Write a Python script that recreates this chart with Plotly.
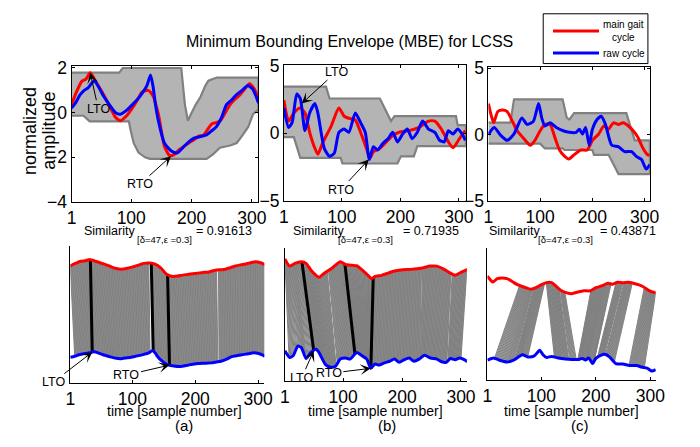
import numpy as np
import plotly.graph_objects as go

W, H = 700, 447
FONT = "Liberation Sans, Arial, sans-serif"

# ---------------- panel (a) ----------------
a_red_x = [1, 8, 18, 25, 32, 42, 53, 64, 74, 82, 92, 102, 112, 118, 128, 136, 145, 155, 164, 172,
           180, 188, 196, 204, 212, 220, 228, 234, 241, 248, 256, 264, 272, 280, 288, 296, 304, 311]
a_red_y = [0.36, 0.85, 1.4, 1.5, 1.79, 1.35, 0.86, 0.3, -0.21, -0.36, -0.15, 0.21, 0.65, 0.93, 1.0, 0.75,
           -0.07, -1.5, -1.93, -1.86, -1.65, -1.5, -1.35, -1.21, -1.05, -1.0, -0.7, -0.5, -0.45, -0.36,
           0.0, 0.36, 0.6, 0.79, 1.05, 1.29, 1.07, 0.64]
a_blue_x = [1, 8, 15, 22, 28, 34, 39, 46, 53, 64, 74, 82, 92, 102, 112, 118, 126, 132, 136, 140, 145,
            155, 166, 176, 188, 196, 204, 215, 225, 234, 241, 250, 258, 266, 274, 284, 293, 301, 306, 311]
a_blue_y = [0.21, 0.45, 0.79, 1.0, 1.1, 1.3, 1.43, 1.15, 0.79, 0.35, 0.0, -0.07, 0.1, 0.36, 0.65, 0.86,
            1.21, 1.69, 1.2, 0.4, -0.36, -1.36, -1.71, -1.81, -1.5, -1.3, -1.14, -1.07, -1.0, -0.8,
            -0.64, -0.2, 0.36, 0.55, 0.79, 1.0, 1.21, 1.07, 0.8, 0.43]
a_env_up_x = [1, 80, 86, 183, 189, 194, 199, 207, 215, 223, 228, 242, 311]
a_env_up_y = [1.79, 1.79, 2.0, 2.0, 0.36, -0.36, -0.07, 0.36, 0.71, 1.21, 1.43, 1.57, 1.57]
a_env_lo_x = [1, 21, 31, 96, 99, 104, 112, 123, 131, 225, 236, 247, 264, 275, 285, 294, 302, 311]
a_env_lo_y = [-0.14, -0.14, -0.39, -0.39, -0.79, -1.36, -1.79, -2.0, -2.07, -2.07, -1.86, -1.57,
              -1.47, -1.36, -1.0, -0.64, -0.07, 0.14]
a_similarity = "0.91613"
# matched sample bands (main cycle index range -> raw cycle index range)
a_match_red_start = [1, 130, 237]
a_match_red_end = [126, 234, 310]
a_match_blue_start = [8, 133, 238]
a_match_blue_end = [128, 236, 310]
a_key_red = [33, 130, 156]
a_key_blue = [36, 133, 159]

# ---------------- panel (b) ----------------
b_red_x = [1, 9, 18, 29, 37, 45, 54, 59, 68, 82, 95, 104, 115, 123, 132, 143, 148, 154, 165, 176, 187,
           198, 215, 232, 248, 259, 270, 282, 290, 301, 311]
b_red_y = [2.45, 0.9, 1.5, 1.86, 1.5, 0.07, -1.12, -1.55, -0.64, 0.55, 1.86, 1.26, 1.07, 0.98, 0.07,
           -1.24, -1.83, -1.36, -1.12, -0.64, -0.17, 0.07, 0.19, 0.43, 0.9, 0.9, 0.31, -0.64, -1.07,
           -0.4, 0.19]
b_blue_x = [1, 9, 15, 23, 29, 37, 45, 54, 59, 70, 79, 87, 95, 104, 112, 123, 132, 140, 147, 154, 161,
            170, 179, 187, 195, 204, 212, 220, 229, 238, 248, 259, 267, 275, 282, 290, 298, 307, 311]
b_blue_y = [1.86, 0.43, 0.79, 2.9, 2.57, 0.19, 1.5, 2.2, 1.5, -1.12, -1.71, -1.48, 0.07, 0.31, 0.07,
            1.5, 0.79, 0.07, -1.95, -1.0, -1.24, -0.76, -0.4, 0.07, -0.64, -0.05, 0.31, -0.4, 0.07,
            0.9, 0.31, 0.07, -0.52, -0.64, 0.19, -0.05, 0.31, -0.17, -0.52]
b_env_up_x = [1, 73, 79, 165, 173, 184, 190, 295, 298, 312]
b_env_up_y = [3.45, 3.45, 2.57, 2.57, 1.86, 0.9, 1.26, 1.26, 0.6, 0.6]
b_env_lo_x = [1, 18, 29, 98, 101, 195, 201, 223, 229, 312]
b_env_lo_y = [-0.29, -0.29, -1.83, -1.83, -2.24, -2.24, -1.71, -1.71, -0.95, -0.95]
b_similarity = "0.71935"
b_match_red_start = [1, 31, 75, 104, 151, 235, 285]
b_match_red_end = [29, 73, 102, 149, 233, 283, 310]
b_match_blue_start = [8, 51, 90, 121, 148, 231, 278]
b_match_blue_end = [49, 88, 119, 146, 230, 276, 300]
b_key_red = [30, 103, 151]
b_key_blue = [50, 120, 147]

# ---------------- panel (c) ----------------
c_red_x = [1, 6, 11, 19, 28, 37, 47, 56, 69, 81, 90, 100, 109, 119, 128, 137, 147, 155, 165, 178, 190,
           200, 212, 222, 231, 240, 250, 259, 269, 278, 287, 297, 306, 310]
c_red_y = [2.34, 1.5, 0.9, 1.74, 1.86, 1.74, 1.0, 0.29, -0.31, -0.8, -0.43, 0.29, 0.77, 0.77, -0.19,
           -1.16, -1.64, -1.84, -1.52, -1.16, -1.16, -0.43, 0.05, 0.65, 0.41, 0.89, 0.77, 0.89, 0.65,
           0.29, -0.19, -1.04, -1.52, -1.52]
c_blue_x = [1, 12, 25, 37, 50, 65, 75, 87, 97, 103, 109, 119, 131, 144, 156, 169, 175, 181, 187, 194,
            200, 209, 217, 225, 237, 250, 262, 275, 284, 294, 303, 310]
c_blue_y = [0.0, 0.53, -0.07, -0.43, 0.05, 1.26, 0.77, 1.0, 2.34, 1.26, 0.65, 0.89, 0.53, 0.29, 0.17,
            0.17, 0.41, 0.05, 0.53, -0.8, 0.41, 1.14, 1.38, 0.77, -0.8, -0.92, -1.28, -1.28, -1.64,
            -1.88, -2.6, -2.25]
c_env_up_x = [1, 43, 50, 143, 151, 156, 165, 265, 281, 310]
c_env_up_y = [0.9, 0.9, 2.66, 2.66, 1.26, 1.14, 1.62, 1.62, -0.43, -0.43]
c_env_lo_x = [1, 100, 109, 143, 147, 200, 203, 231, 250, 310]
c_env_lo_y = [-0.68, -0.68, -1.04, -1.04, -1.16, -1.16, -1.52, -1.52, -2.97, -2.97]
c_similarity = "0.43871"
c_match_red_start = [60, 86, 109, 135, 191, 237, 252, 289]
c_match_red_end = [84, 106, 133, 143, 228, 250, 267, 310]
c_match_blue_start = [14, 52, 124, 152, 167, 203, 218, 261]
c_match_blue_end = [50, 75, 150, 164, 197, 216, 234, 289]
c_key_red = []
c_key_blue = []

x_ticks = [1, 100, 200, 300]

RED = "rgb(255,0,0)"
BLUE = "rgb(0,0,255)"
ENV_FILL = "rgb(180,180,180)"
ENV_EDGE = "rgb(128,128,128)"
MATCH = "rgb(128,128,128)"


def fx(p):
    return p / W


def fy(p):
    return 1 - p / H


panels = [
    dict(rx=a_red_x, ry=a_red_y, bx=a_blue_x, by=a_blue_y,
         eux=a_env_up_x, euy=a_env_up_y, elx=a_env_lo_x, ely=a_env_lo_y, sim=a_similarity,
         mrs=a_match_red_start, mre=a_match_red_end, mbs=a_match_blue_start, mbe=a_match_blue_end,
         kr=a_key_red, kb=a_key_blue,
         top_x=(68, 259), top_y=(59.5, 201.5), top_xr=[1, 311], top_yr=[-4, 2.09], yt=[-4, -2, 0, 2],
         bot_x=(66.7, 265), bot_y=(247, 391), bot_yr=[0, 30.25], roff=25.4, boff=5.5,
         sim_x=(79, 133, 193), xlab_x=173, tag="(a)", tag_x=183),
    dict(rx=b_red_x, ry=b_red_y, bx=b_blue_x, by=b_blue_y,
         eux=b_env_up_x, euy=b_env_up_y, elx=b_env_lo_x, ely=b_env_lo_y, sim=b_similarity,
         mrs=b_match_red_start, mre=b_match_red_end, mbs=b_match_blue_start, mbe=b_match_blue_end,
         kr=b_key_red, kb=b_key_blue,
         top_x=(285, 471), top_y=(58.5, 201), top_xr=[1, 312], top_yr=[-5.05, 5.05], yt=[-5, 0, 5],
         bot_x=(286, 472), bot_y=(250, 389), bot_yr=[0, 28.96], roff=24.2, boff=4.8,
         sim_x=(292, 338, 405), xlab_x=379, tag="(b)", tag_x=390),
    dict(rx=c_red_x, ry=c_red_y, bx=c_blue_x, by=c_blue_y,
         eux=c_env_up_x, euy=c_env_up_y, elx=c_env_lo_x, ely=c_env_lo_y, sim=c_similarity,
         mrs=c_match_red_start, mre=c_match_red_end, mbs=c_match_blue_start, mbe=c_match_blue_end,
         kr=c_key_red, kb=c_key_blue,
         top_x=(494, 659), top_y=(60.5, 200.5), top_xr=[1, 310], top_yr=[-5, 5.1], yt=[-5, 0, 5],
         bot_x=(493, 665), bot_y=(250, 387), bot_yr=[0, 31.1], roff=22.2, boff=4.6,
         sim_x=(493, 543, 606), xlab_x=579, tag="(c)", tag_x=588),
]

fig = go.Figure()
layout = dict(
    width=W, height=H, margin=dict(l=0, r=0, t=0, b=0),
    paper_bgcolor="white", plot_bgcolor="white", showlegend=False,
    font=dict(family=FONT, color="black"),
)
annotations = []
shapes = []

for i, p in enumerate(panels):
    tn = i + 1          # top axis number
    bn = i + 4          # bottom axis number
    txa = "x" if tn == 1 else f"x{tn}"
    tya = "y" if tn == 1 else f"y{tn}"
    bxa, bya = f"x{bn}", f"y{bn}"

    # envelope
    ex = list(p["eux"]) + list(p["elx"])[::-1]
    ey = list(p["euy"]) + list(p["ely"])[::-1]
    fig.add_trace(go.Scatter(x=ex, y=ey, fill="toself", fillcolor=ENV_FILL, mode="lines",
                             line=dict(color=ENV_EDGE, width=2.2), xaxis=txa, yaxis=tya,
                             hoverinfo="skip"))
    fig.add_trace(go.Scatter(x=p["rx"], y=p["ry"], mode="lines",
                             line=dict(color=RED, width=3, shape="spline", smoothing=0.6),
                             xaxis=txa, yaxis=tya, name="main gait cycle"))
    fig.add_trace(go.Scatter(x=p["bx"], y=p["by"], mode="lines",
                             line=dict(color=BLUE, width=3, shape="spline", smoothing=0.6),
                             xaxis=txa, yaxis=tya, name="raw cycle"))

    # bottom: matched samples between the two cycles
    def red_at(t, p=p):
        return p["roff"] + float(np.interp(t, p["rx"], p["ry"]))

    def blue_at(t, p=p):
        return p["boff"] + float(np.interp(t, p["bx"], p["by"]))

    mx, my = [], []
    for rs, re_, bs, be in zip(p["mrs"], p["mre"], p["mbs"], p["mbe"]):
        for r in range(rs, re_ + 1):
            b = bs + (be - bs) * (r - rs) / max(re_ - rs, 1)
            mx += [r, b, None]
            my += [red_at(r), blue_at(b), None]
    fig.add_trace(go.Scatter(x=mx, y=my, mode="lines", line=dict(color=MATCH, width=1),
                             xaxis=bxa, yaxis=bya, hoverinfo="skip"))
    kx, ky = [], []
    for r, b in zip(p["kr"], p["kb"]):
        kx += [r, b, None]
        ky += [red_at(r), blue_at(b), None]
    if kx:
        fig.add_trace(go.Scatter(x=kx, y=ky, mode="lines", line=dict(color="black", width=3),
                                 xaxis=bxa, yaxis=bya, hoverinfo="skip"))
    fig.add_trace(go.Scatter(x=p["rx"], y=[p["roff"] + v for v in p["ry"]], mode="lines",
                             line=dict(color=RED, width=3, shape="spline", smoothing=0.6),
                             xaxis=bxa, yaxis=bya))
    fig.add_trace(go.Scatter(x=p["bx"], y=[p["boff"] + v for v in p["by"]], mode="lines",
                             line=dict(color=BLUE, width=3, shape="spline", smoothing=0.6),
                             xaxis=bxa, yaxis=bya))

    tick_common = dict(tickfont=dict(size=17.5, family=FONT, color="black"), showgrid=False,
                       zeroline=False, linecolor="black", linewidth=1, tickcolor="black",
                       ticks="inside", ticklen=3)
    layout[f"xaxis{'' if tn == 1 else tn}"] = dict(
        domain=[fx(p["top_x"][0]), fx(p["top_x"][1])], range=p["top_xr"], anchor=tya,
        tickvals=x_ticks, showline=True, mirror="ticks", **tick_common)
    layout[f"yaxis{'' if tn == 1 else tn}"] = dict(
        domain=[fy(p["top_y"][1]), fy(p["top_y"][0])], range=p["top_yr"], anchor=txa,
        tickvals=p["yt"], showline=True, mirror="ticks", **tick_common)
    layout[f"xaxis{bn}"] = dict(
        domain=[fx(p["bot_x"][0]), fx(p["bot_x"][1])], range=[1, 310], anchor=bya,
        tickvals=x_ticks, showline=True, mirror=False, **tick_common)
    layout[f"yaxis{bn}"] = dict(
        domain=[fy(p["bot_y"][1]), fy(p["bot_y"][0])], range=p["bot_yr"], anchor=bxa,
        showline=True, linecolor="black", linewidth=1, showticklabels=False, ticks="",
        showgrid=False, zeroline=False)

    # similarity caption
    s1, s2, s3 = p["sim_x"]
    annotations += [
        dict(text="Similarity", x=fx(s1), y=fy(232), xref="paper", yref="paper",
             xanchor="left", yanchor="middle", showarrow=False, font=dict(size=12.5)),
        dict(text="[δ=47,ε =0.3]", x=fx(s2), y=fy(241), xref="paper", yref="paper",
             xanchor="left", yanchor="middle", showarrow=False, font=dict(size=9.5)),
        dict(text="= " + p["sim"], x=fx(s3), y=fy(232), xref="paper", yref="paper",
             xanchor="left", yanchor="middle", showarrow=False, font=dict(size=12.5)),
        dict(text="time [sample number]", x=fx(p["xlab_x"]), y=fy(420), xref="paper",
             yref="paper", xanchor="center", yanchor="middle", showarrow=False,
             font=dict(size=14)),
        dict(text=p["tag"], x=fx(p["tag_x"]), y=fy(435), xref="paper", yref="paper",
             xanchor="center", yanchor="middle", showarrow=False, font=dict(size=15)),
    ]

# event labels (toe-off) with arrows
arrow_style = dict(showarrow=True, arrowhead=3, arrowsize=1.8, arrowwidth=1, arrowcolor="black",
                   font=dict(size=12.5))
pa, pb = panels[0], panels[1]
events = [
    ("LTO", "x", "y", 32, 1.79, 8, 36),
    ("RTO", "x", "y", 166, -1.95, -31, 28),
    ("LTO", "x2", "y2", 31.5, 2.2, 35, -32),
    ("RTO", "x2", "y2", 146, -1.95, -28, 30),
    ("LTO", "x4", "y4", a_key_blue[0], pa["boff"] + float(np.interp(a_key_blue[0], a_blue_x, a_blue_y)), -39, 30),
    ("RTO", "x4", "y4", a_key_blue[2], pa["boff"] + float(np.interp(a_key_blue[2], a_blue_x, a_blue_y)), -43, 10),
    ("LTO", "x5", "y5", b_key_blue[0], pb["boff"] + float(np.interp(b_key_blue[0], b_blue_x, b_blue_y)), -12, 27),
    ("RTO", "x5", "y5", b_key_blue[2], pb["boff"] + float(np.interp(b_key_blue[2], b_blue_x, b_blue_y)), -42, 5),
]
for txt, xr, yr, x, y, ax, ay in events:
    annotations.append(dict(text=txt, x=x, y=y, xref=xr, yref=yr, ax=ax, ay=ay, **arrow_style))

# title and y-axis label
annotations += [
    dict(text="Minimum Bounding Envelope (MBE) for LCSS", x=fx(352), y=fy(34), xref="paper",
         yref="paper", xanchor="center", yanchor="middle", showarrow=False, font=dict(size=16)),
    dict(text="normalized", x=fx(25), y=fy(127), xref="paper", yref="paper", textangle=-90,
         xanchor="center", yanchor="middle", showarrow=False, font=dict(size=18)),
    dict(text="amplitude", x=fx(45), y=fy(127), xref="paper", yref="paper", textangle=-90,
         xanchor="center", yanchor="middle", showarrow=False, font=dict(size=18)),
]

# legend box
shapes += [
    dict(type="rect", xref="paper", yref="paper", x0=fx(550), x1=fx(657), y0=fy(57), y1=fy(5),
         line=dict(color="black", width=1), fillcolor="white"),
    dict(type="line", xref="paper", yref="paper", x0=fx(560), x1=fx(607), y0=fy(23), y1=fy(23),
         line=dict(color=RED, width=3)),
    dict(type="line", xref="paper", yref="paper", x0=fx(560), x1=fx(607), y0=fy(46), y1=fy(46),
         line=dict(color=BLUE, width=3)),
]
annotations += [
    dict(text="main gait<br>cycle", x=fx(632), y=fy(23), xref="paper", yref="paper",
         xanchor="center", yanchor="middle", align="center", showarrow=False,
         font=dict(size=10)),
    dict(text="raw cycle", x=fx(633), y=fy(46), xref="paper", yref="paper",
         xanchor="center", yanchor="middle", showarrow=False, font=dict(size=10)),
]

layout["annotations"] = annotations
layout["shapes"] = shapes
fig.update_layout(**layout)
fig.write_html("out.html")
